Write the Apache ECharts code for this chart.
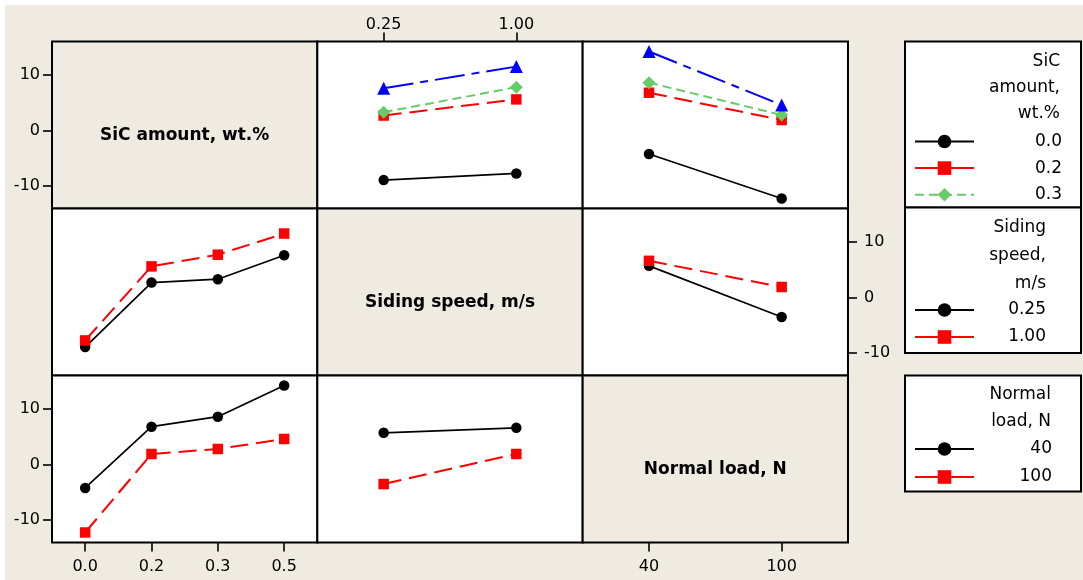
<!DOCTYPE html>
<html>
<head>
<meta charset="utf-8">
<script src="https://cdn.jsdelivr.net/npm/echarts@6.0.0/dist/echarts.min.js"></script>
<style>
html,body{margin:0;padding:0;background:#ffffff;}
#chart{width:1083px;height:580px;}
</style>
</head>
<body>
<div id="chart"></div>
<script>
// ---- categories / levels ----
const sicLevels = ['0.0', '0.2', '0.3', '0.5'];
const speedLevels = ['0.25', '1.00'];
const loadLevels = ['40', '100'];
const yTickValues = [-10, 0, 10];

// ---- Row 1: SiC amount lines (mean response) ----
const sic00VsSpeed = [-8.9, -7.7];
const sic02VsSpeed = [2.7, 5.6];
const sic03VsSpeed = [3.3, 7.8];
const sic05VsSpeed = [7.6, 11.5];
const sic00VsLoad = [-4.2, -12.2];
const sic02VsLoad = [6.8, 1.9];
const sic03VsLoad = [8.6, 2.8];
const sic05VsLoad = [14.2, 4.6];

// ---- Row 2: Sliding speed lines ----
const spd025VsSic = [-8.9, 2.7, 3.3, 7.6];
const spd100VsSic = [-7.7, 5.6, 7.7, 11.5];
const spd025VsLoad = [5.7, -3.5];
const spd100VsLoad = [6.6, 1.9];

// ---- Row 3: Normal load lines ----
const load40VsSic = [-4.2, 6.8, 8.6, 14.2];
const load100VsSic = [-12.2, 1.9, 2.8, 4.6];
const load40VsSpeed = [5.7, 6.6];
const load100VsSpeed = [-3.5, 1.9];

// ---- layout / style ----
const BEIGE = '#efebe1';
const FONT = 'DejaVu Sans';
const L = 52, T = 41.5, CW = 265.33, RH = 167;
const colCats = [sicLevels, speedLevels, loadLevels];

const styles = {
  black: { color: '#000000', symbol: 'circle', symbolSize: 10.5, type: 'solid', width: 1.7 },
  red:   { color: '#ff0000', symbol: 'rect', symbolSize: 10.5, type: [18, 8], width: 2 },
  green: { color: '#66cc66', symbol: 'diamond', symbolSize: 13, type: [9, 5], width: 2 },
  blue:  { color: '#0000ff', symbol: 'triangle', symbolSize: 13, type: [30, 7, 8, 7], width: 2 }
};

const grids = [], xAxes = [], yAxes = [];
for (let r = 0; r < 3; r++) {
  for (let c = 0; c < 3; c++) {
    const g = r * 3 + c;
    const diag = r === c;
    grids.push({
      left: L + c * CW, top: T + r * RH, width: CW, height: RH,
      show: true, backgroundColor: diag ? BEIGE : '#ffffff',
      borderColor: '#000000', borderWidth: 2
    });
    const showX = (r === 2 && (c === 0 || c === 2)) || (r === 0 && c === 1);
    xAxes.push({
      type: 'category', gridIndex: g, data: colCats[c], boundaryGap: true,
      show: showX, position: (r === 0 && c === 1) ? 'top' : 'bottom',
      axisLine: { show: false, onZero: false },
      axisTick: { show: true, inside: false, alignWithLabel: true, length: 9, lineStyle: { color: '#000', width: 1.6 } },
      axisLabel: { color: '#000', fontFamily: FONT, fontSize: 16, margin: (r === 0 && c === 1) ? 9 : 16 },
      splitLine: { show: false }
    });
    const showY = (c === 0 && (r === 0 || r === 2)) || (r === 1 && c === 2);
    yAxes.push({
      type: 'value', gridIndex: g, min: -14, max: 16,
      show: showY, position: (r === 1 && c === 2) ? 'right' : 'left',
      axisLine: { show: false, onZero: false },
      axisTick: { show: true, inside: false, length: 9, customValues: yTickValues, lineStyle: { color: '#000', width: 1.6 } },
      axisLabel: { color: '#000', fontFamily: FONT, fontSize: 16, customValues: yTickValues, margin: (r === 1 && c === 2) ? 16 : 12 },
      splitLine: { show: false }
    });
  }
}

function line(name, data, g, st) {
  const s = styles[st];
  return {
    type: 'line', name: name, data: data, xAxisIndex: g, yAxisIndex: g,
    symbol: s.symbol, symbolSize: s.symbolSize, showAllSymbol: true,
    itemStyle: { color: s.color },
    lineStyle: { color: s.color, width: s.width, type: s.type },
    animation: false, silent: true
  };
}

const series = [
  // row 1
  line('0.0', sic00VsSpeed, 1, 'black'), line('0.2', sic02VsSpeed, 1, 'red'),
  line('0.3', sic03VsSpeed, 1, 'green'), line('0.5', sic05VsSpeed, 1, 'blue'),
  line('0.0', sic00VsLoad, 2, 'black'), line('0.2', sic02VsLoad, 2, 'red'),
  line('0.3', sic03VsLoad, 2, 'green'), line('0.5', sic05VsLoad, 2, 'blue'),
  // row 2
  line('0.25', spd025VsSic, 3, 'black'), line('1.00', spd100VsSic, 3, 'red'),
  line('0.25', spd025VsLoad, 5, 'black'), line('1.00', spd100VsLoad, 5, 'red'),
  // row 3
  line('40', load40VsSic, 6, 'black'), line('100', load100VsSic, 6, 'red'),
  line('40', load40VsSpeed, 7, 'black'), line('100', load100VsSpeed, 7, 'red')
];

function legendItems(names, solidNames) {
  return names.map(function (n) {
    return solidNames.indexOf(n) >= 0 ? { name: n, lineStyle: { type: 'solid' } } : { name: n };
  });
}

function legend(items, top, gap, textWidth) {
  return {
    data: items, orient: 'vertical', left: 914, top: top, padding: 0,
    itemWidth: 59, itemHeight: 17, itemGap: gap, selectedMode: false,
    formatter: function (n) { return '{a|' + n + '}'; },
    textStyle: {
      color: '#000', fontFamily: FONT, fontSize: 17, lineHeight: 17,
      rich: { a: { width: textWidth, align: 'right', color: '#000', fontFamily: FONT, fontSize: 17, lineHeight: 17 } }
    }
  };
}

const graphics = [
  { type: 'rect', z: -10, silent: true, shape: { x: 0, y: 0, width: 1083, height: 5 }, style: { fill: '#ffffff' } },
  { type: 'rect', z: -10, silent: true, shape: { x: 0, y: 0, width: 5, height: 580 }, style: { fill: '#ffffff' } },
  // legend boxes
  { type: 'rect', z: 1, silent: true, shape: { x: 905, y: 41.5, width: 176, height: 166 }, style: { fill: '#ffffff', stroke: '#000', lineWidth: 2 } },
  { type: 'rect', z: 1, silent: true, shape: { x: 905, y: 207.5, width: 176, height: 145.5 }, style: { fill: '#ffffff', stroke: '#000', lineWidth: 2 } },
  { type: 'rect', z: 1, silent: true, shape: { x: 905, y: 375.5, width: 176, height: 116 }, style: { fill: '#ffffff', stroke: '#000', lineWidth: 2 } },
  // legend titles
  { type: 'text', z: 5, silent: true, style: { text: 'SiC\namount,\nwt.%', x: 1060, y: 49, align: 'right', verticalAlign: 'top', lineHeight: 25.8, fill: '#000', font: '17px "DejaVu Sans"' } },
  { type: 'text', z: 5, silent: true, style: { text: 'Siding\nspeed,\nm/s', x: 1046, y: 214, align: 'right', verticalAlign: 'top', lineHeight: 27.8, fill: '#000', font: '17px "DejaVu Sans"' } },
  { type: 'text', z: 5, silent: true, style: { text: 'Normal\nload, N', x: 1051, y: 381.5, align: 'right', verticalAlign: 'top', lineHeight: 27, fill: '#000', font: '17px "DejaVu Sans"' } }
];

// diagonal titles
const diagTitles = ['SiC amount, wt.%', 'Siding speed, m/s', 'Normal load, N'];
diagTitles.forEach(function (t, i) {
  graphics.push({
    type: 'text', z: 5, silent: true,
    style: { text: t, x: L + i * CW + CW / 2, y: T + i * RH + RH / 2 + 11, align: 'center', verticalAlign: 'middle',
             fill: '#000', font: 'bold 17px "DejaVu Sans"' }
  });
});

const option = {
  backgroundColor: BEIGE,
  animation: false,
  grid: grids,
  xAxis: xAxes,
  yAxis: yAxes,
  series: series,
  legend: [
    legend(legendItems(['0.0', '0.2', '0.3'], ['0.2']), 133, 9.6, 83),
    legend(legendItems(['0.25', '1.00'], ['1.00']), 301.5, 10, 67),
    legend(legendItems(['40', '100'], ['100']), 440.5, 11, 73)
  ],
  graphic: graphics
};

const chart = echarts.init(document.getElementById('chart'), null, { renderer: 'canvas' });
chart.setOption(option);
</script>
</body>
</html>
